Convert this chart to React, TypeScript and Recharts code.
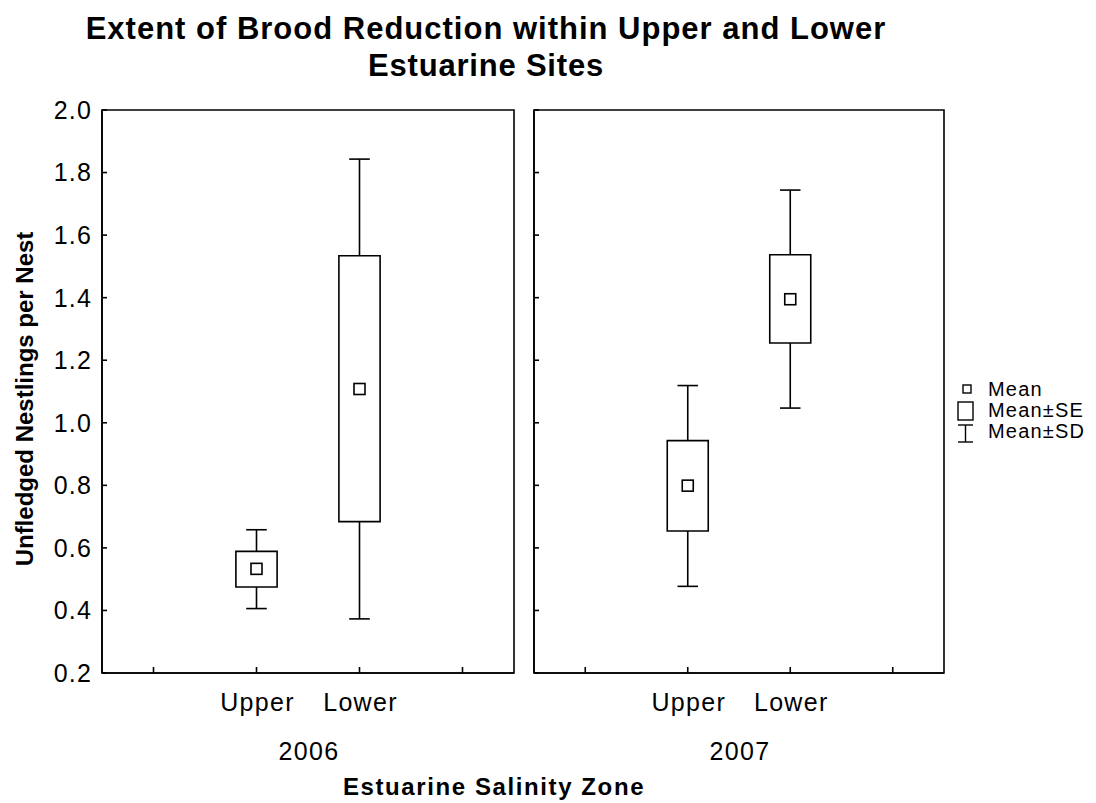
import React from 'react';
import { ComposedChart, XAxis, YAxis, Scatter, ReferenceArea, ReferenceLine } from 'recharts';

const categories = ['Upper', 'Lower'];
const categoryPositions = [2, 3];
const xTicks = [1, 2, 3, 4];
const yTicks = [0.2, 0.4, 0.6, 0.8, 1.0, 1.2, 1.4, 1.6, 1.8, 2.0];
const years = ['2006', '2007'];

const mean2006 = [0.533, 1.108];
const seLow2006 = [0.475, 0.684];
const seHigh2006 = [0.589, 1.534];
const sdLow2006 = [0.406, 0.373];
const sdHigh2006 = [0.658, 1.843];

const mean2007 = [0.799, 1.395];
const seLow2007 = [0.654, 1.255];
const seHigh2007 = [0.943, 1.537];
const sdLow2007 = [0.477, 1.047];
const sdHigh2007 = [1.119, 1.744];

const FONT = '"Liberation Sans", Arial, Helvetica, sans-serif';
const BOX_HALF = 0.2;
const CAP_HALF = 0.1;

const MeanShape = (props: any) => {
  const { cx, cy } = props;
  if (cx == null || cy == null) return null;
  return <rect x={cx - 5.5} y={cy - 5.5} width={11} height={11} fill="#fff" stroke="#000" strokeWidth={1.6} />;
};

const makeYTick = (show: boolean) => (props: any) => {
  const { x, y, payload } = props;
  if (!show) return <g />;
  return (
    <text x={x} y={y} dy="0.355em" textAnchor="end" fontSize={25} fontFamily={FONT} fill="#000" style={{ letterSpacing: '1.2px' }}>
      {Number(payload.value).toFixed(1)}
    </text>
  );
};

const XTick = (props: any) => {
  const { x, y, payload } = props;
  const i = categoryPositions.indexOf(payload.value);
  if (i < 0) return <g />;
  return (
    <text x={x + 1} y={y} dy="0.71em" textAnchor="middle" fontSize={25} fontFamily={FONT} fill="#000" style={{ letterSpacing: '1.3px' }}>
      {categories[i]}
    </text>
  );
};

type PanelProps = {
  left: number;
  width: number;
  marginLeft: number;
  marginRight: number;
  showYLabels: boolean;
  means: number[];
  seLow: number[];
  seHigh: number[];
  sdLow: number[];
  sdHigh: number[];
};

const Panel = ({ left, width, marginLeft, marginRight, showYLabels, means, seLow, seHigh, sdLow, sdHigh }: PanelProps) => {
  const data = categoryPositions.map((x, i) => ({ x, y: means[i] }));
  const lineProps = { stroke: '#000', strokeWidth: 1.6, ifOverflow: 'visible' as const };
  return (
    <div style={{ position: 'absolute', left, top: 0 }}>
      <ComposedChart width={width} height={803} margin={{ top: 110, right: marginRight, bottom: 100, left: marginLeft }}>
        <XAxis
          type="number"
          dataKey="x"
          domain={[0.5, 4.5]}
          ticks={xTicks}
          height={30}
          tickSize={-6}
          tickMargin={26}
          axisLine={{ stroke: '#000', strokeWidth: 1.6 }}
          tickLine={{ stroke: '#000', strokeWidth: 1.6 }}
          tick={<XTick />}
          allowDataOverflow
        />
        <YAxis
          type="number"
          dataKey="y"
          domain={[0.2, 2.0]}
          ticks={yTicks}
          width={60}
          tickSize={-5}
          tickMargin={15}
          axisLine={{ stroke: '#000', strokeWidth: 1.6 }}
          tickLine={{ stroke: '#000', strokeWidth: 1.6 }}
          tick={makeYTick(showYLabels)}
          allowDataOverflow
        />
        <ReferenceArea x1={0.5} x2={4.5} y1={0.2} y2={2.0} fill="none" stroke="#000" strokeWidth={1.6} ifOverflow="visible" />
        {categoryPositions.map((x, i) => (
          <ReferenceArea
            key={`box-${i}`}
            x1={x - BOX_HALF}
            x2={x + BOX_HALF}
            y1={seLow[i]}
            y2={seHigh[i]}
            fill="none"
            stroke="#000"
            strokeWidth={1.6}
            ifOverflow="visible"
          />
        ))}
        {categoryPositions.map((x, i) => (
          <ReferenceLine key={`wu-${i}`} segment={[{ x, y: seHigh[i] }, { x, y: sdHigh[i] }]} {...lineProps} />
        ))}
        {categoryPositions.map((x, i) => (
          <ReferenceLine key={`wl-${i}`} segment={[{ x, y: seLow[i] }, { x, y: sdLow[i] }]} {...lineProps} />
        ))}
        {categoryPositions.map((x, i) => (
          <ReferenceLine key={`cu-${i}`} segment={[{ x: x - CAP_HALF, y: sdHigh[i] }, { x: x + CAP_HALF, y: sdHigh[i] }]} {...lineProps} />
        ))}
        {categoryPositions.map((x, i) => (
          <ReferenceLine key={`cl-${i}`} segment={[{ x: x - CAP_HALF, y: sdLow[i] }, { x: x + CAP_HALF, y: sdLow[i] }]} {...lineProps} />
        ))}
        <Scatter data={data} dataKey="y" shape={<MeanShape />} isAnimationActive={false} />
      </ComposedChart>
    </div>
  );
};

export default function App() {
  return (
    <div style={{ position: 'absolute', left: 0, top: 0, width: 1096, height: 803, background: '#fff', fontFamily: FONT }}>
      <Panel left={0} width={530} marginLeft={42} marginRight={16} showYLabels
        means={mean2006} seLow={seLow2006} seHigh={seHigh2006} sdLow={sdLow2006} sdHigh={sdHigh2006} />
      <Panel left={474} width={480} marginLeft={0} marginRight={10} showYLabels={false}
        means={mean2007} seLow={seLow2007} seHigh={seHigh2007} sdLow={sdLow2007} sdHigh={sdHigh2007} />
      <svg width={1096} height={803} style={{ position: 'absolute', left: 0, top: 0, pointerEvents: 'none' }}>
        <g fontFamily={FONT} fill="#000">
          <text x={486} y={39} fontSize={31} fontWeight="bold" textAnchor="middle" style={{ letterSpacing: '1px' }}>Extent of Brood Reduction within Upper and Lower</text>
          <text x={486} y={76} fontSize={31} fontWeight="bold" textAnchor="middle" style={{ letterSpacing: '0.8px' }}>Estuarine Sites</text>
          <text transform="translate(33,399) rotate(-90)" fontSize={24} fontWeight="bold" textAnchor="middle">Unfledged Nestlings per Nest</text>
          <text x={309} y={760} fontSize={25} textAnchor="middle" style={{ letterSpacing: '1.3px' }}>{years[0]}</text>
          <text x={740} y={760} fontSize={25} textAnchor="middle" style={{ letterSpacing: '1.3px' }}>{years[1]}</text>
          <text x={494} y={795} fontSize={24} fontWeight="bold" textAnchor="middle" style={{ letterSpacing: '1.6px' }}>Estuarine Salinity Zone</text>
        </g>
        <g fontFamily={FONT} fill="#000" fontSize={20} style={{ letterSpacing: '1.2px' }}>
          <rect x={963} y={385} width={8} height={8} fill="#fff" stroke="#000" strokeWidth={1.4} />
          <text x={988} y={396}>Mean</text>
          <rect x={958} y={402} width={15} height={18} fill="#fff" stroke="#000" strokeWidth={1.4} />
          <text x={988} y={417}>Mean±SE</text>
          <line x1={958} x2={973} y1={425} y2={425} stroke="#000" strokeWidth={1.4} />
          <line x1={965.5} x2={965.5} y1={425} y2={442} stroke="#000" strokeWidth={1.4} />
          <line x1={958} x2={973} y1={442} y2={442} stroke="#000" strokeWidth={1.4} />
          <text x={988} y={438}>Mean±SD</text>
        </g>
      </svg>
    </div>
  );
}
